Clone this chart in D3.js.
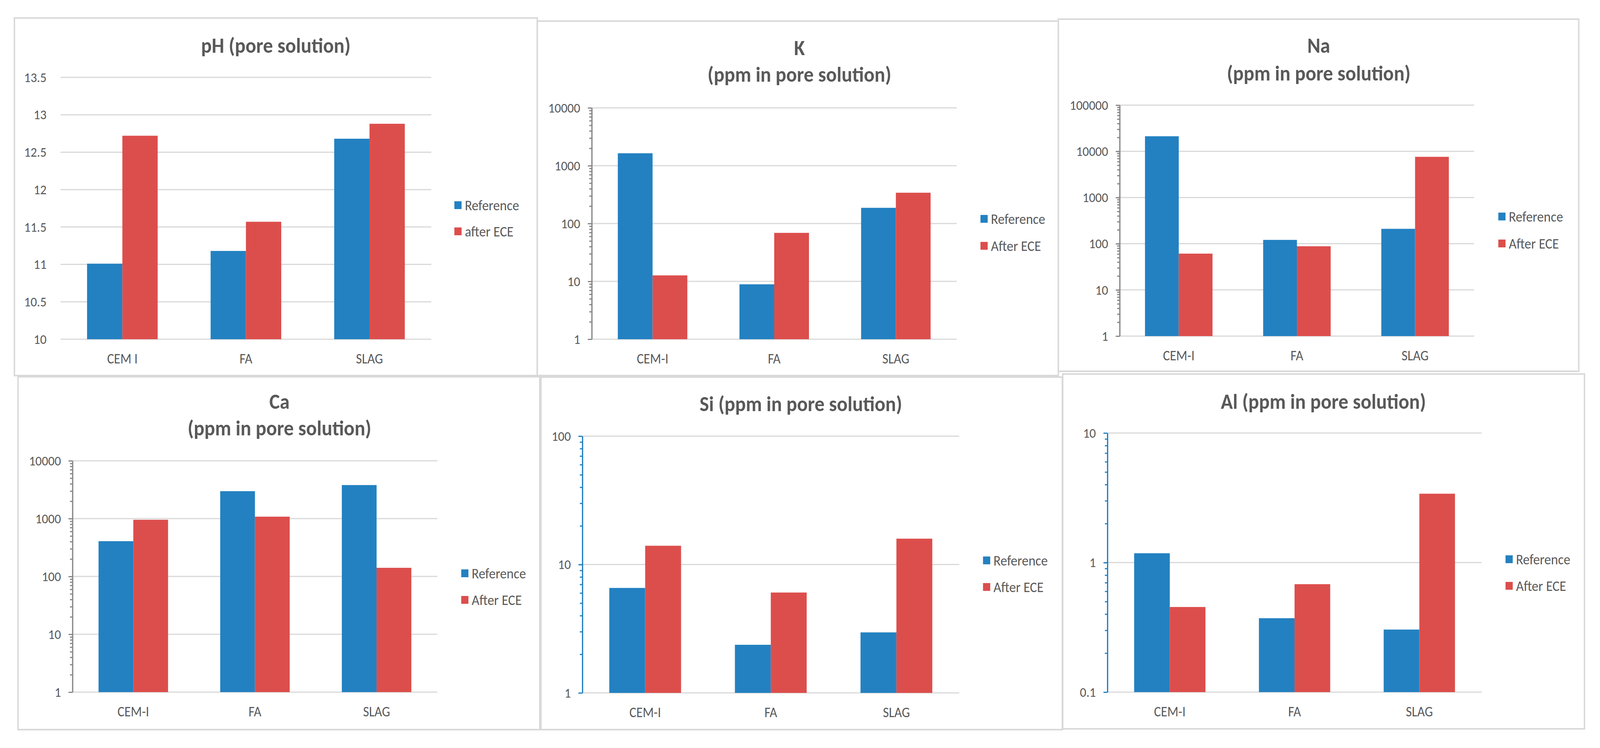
<!DOCTYPE html>
<html>
<head>
<meta charset="utf-8">
<script src="https://cdn.jsdelivr.net/npm/d3@7"></script>
<style>
  html, body { margin: 0; padding: 0; background: #ffffff; overflow: hidden; }
  #chart svg { display: block; width: 100vw; height: 100vh; }
  text { font-family: "Carlito", "Lato", "Open Sans", sans-serif; fill: #595959; }
</style>
</head>
<body>
<div id="chart"></div>
<script>
// data
var categoriesPH = ["CEM I", "FA", "SLAG"];
var categories = ["CEM-I", "FA", "SLAG"];
var seriesPH = ["Reference", "after ECE"];
var series = ["Reference", "After ECE"];

var phReference = [11.01, 11.18, 12.68];
var phAfterECE = [12.72, 11.57, 12.88];
var kReference = [1640, 8.9, 187];
var kAfterECE = [12.7, 69, 341];
var naReference = [21200, 121, 210];
var naAfterECE = [61, 88, 7600];
var caReference = [407, 2980, 3800];
var caAfterECE = [955, 1080, 141];
var siReference = [6.57, 2.37, 2.96];
var siAfterECE = [14.0, 6.05, 15.9];
var alReference = [1.18, 0.372, 0.304];
var alAfterECE = [0.454, 0.681, 3.40];

var phTicks = [10, 10.5, 11, 11.5, 12, 12.5, 13, 13.5];
var kTicks = [1, 10, 100, 1000, 10000];
var naTicks = [1, 10, 100, 1000, 10000, 100000];
var caTicks = [1, 10, 100, 1000, 10000];
var siTicks = [1, 10, 100];
var alTicks = [0.1, 1, 10];

var colors = ["#2381c1", "#dc4e4c"];

// panel layout (page pixels)
var panels = [
  { title: ["pH (pore solution)"], cats: categoriesPH, names: seriesPH, values: [phReference, phAfterECE], ticks: phTicks, log: false,
    frame: [40, 46, 1490, 961], plot: [168, 198, 1196, 868], titleX: 765, titleY: [116], legend: [1260, 525, 592], axisColor: null },
  { title: ["K", "(ppm in pore solution)"], cats: categories, names: series, values: [kReference, kAfterECE], ticks: kTicks, log: true,
    frame: [1490, 54, 2935, 961], plot: [1641, 276, 2653, 868], titleX: 2217, titleY: [122, 190], legend: [2719, 560, 629], axisColor: "#868686" },
  { title: ["Na", "(ppm in pore solution)"], cats: categories, names: series, values: [naReference, naAfterECE], ticks: naTicks, log: true,
    frame: [2935, 49, 4378, 950], plot: [3105, 269, 4088, 860], titleX: 3657, titleY: [116, 187], legend: [4155, 554, 623], axisColor: "#868686" },
  { title: ["Ca", "(ppm in pore solution)"], cats: categories, names: series, values: [caReference, caAfterECE], ticks: caTicks, log: true,
    frame: [50, 964, 1497, 1867], plot: [201, 1179, 1213, 1771], titleX: 775, titleY: [1027, 1095], legend: [1279, 1467, 1535], axisColor: "#868686" },
  { title: ["Si (ppm in pore solution)"], cats: categories, names: series, values: [siReference, siAfterECE], ticks: siTicks, log: true,
    frame: [1500, 965, 2946, 1867], plot: [1615, 1116, 2660, 1773], titleX: 2221, titleY: [1033], legend: [2726, 1434, 1502], axisColor: "#2381c1" },
  { title: ["Al (ppm in pore solution)"], cats: categories, names: series, values: [alReference, alAfterECE], ticks: alTicks, log: true,
    frame: [2947, 957, 4394, 1865], plot: [3071, 1108, 4109, 1771], titleX: 3670, titleY: [1027], legend: [4175, 1431, 1499], axisColor: "#2381c1" }
];

// the drawing is laid out in a 4437x1914 box and scaled to the window
var svg = d3.select("#chart")
            .append("svg")
            .attr("viewBox", "0 0 4437 1914")
            .attr("preserveAspectRatio", "none");

panels.forEach(function(p) {
    // frame
    svg.append("rect")
       .attr("x", p.frame[0])
       .attr("y", p.frame[1])
       .attr("width", p.frame[2] - p.frame[0])
       .attr("height", p.frame[3] - p.frame[1])
       .attr("fill", "#ffffff")
       .attr("stroke", "#d9d9d9")
       .attr("stroke-width", 4);

    var left = p.plot[0], top = p.plot[1], right = p.plot[2], bottom = p.plot[3];
    var g = svg.append("g").attr("transform", "translate(" + left + "," + top + ")");
    var width = right - left, height = bottom - top;

    // scales
    var x0 = d3.scaleBand()
               .domain(p.cats)
               .range([0, width])
               .paddingInner(1.5 / 3.5)
               .paddingOuter(0.75 / 3.5);
    var x1 = d3.scaleBand()
               .domain(p.names)
               .range([0, x0.bandwidth()]);
    var y = p.log
        ? d3.scaleLog().domain([p.ticks[0], p.ticks[p.ticks.length - 1]]).range([height, 0])
        : d3.scaleLinear().domain([p.ticks[0], p.ticks[p.ticks.length - 1]]).range([height, 0]);

    // gridlines
    g.selectAll(".grid")
     .data(p.ticks)
     .enter().append("line")
     .attr("x1", 0)
     .attr("x2", width)
     .attr("y1", function(d) { return y(d); })
     .attr("y2", function(d) { return y(d); })
     .attr("stroke", "#d9d9d9")
     .attr("stroke-width", 3);

    // bars
    var rows = p.cats.map(function(c, i) {
        return p.names.map(function(n, j) { return { cat: c, name: n, value: p.values[j][i], k: j }; });
    });
    g.selectAll(".cat")
     .data(rows)
     .enter().append("g")
     .attr("transform", function(d) { return "translate(" + x0(d[0].cat) + ",0)"; })
     .selectAll("rect")
     .data(function(d) { return d; })
     .enter().append("rect")
     .attr("x", function(d) { return x1(d.name); })
     .attr("width", x1.bandwidth())
     .attr("y", function(d) { return y(d.value); })
     .attr("height", function(d) { return height - y(d.value); })
     .attr("fill", function(d) { return colors[d.k]; });

    // y axis
    var fmt = function(d) { return String(d); };
    var yAxis;
    if (p.log) {
        var minor = g.append("g")
                     .call(d3.axisLeft(y).tickValues(y.ticks()).tickSize(7).tickFormat(""));
        minor.select(".domain").remove();
        minor.selectAll("line").attr("stroke", p.axisColor).attr("stroke-width", 3);
        yAxis = g.append("g")
                 .call(d3.axisLeft(y).tickValues(p.ticks).tickSizeInner(11).tickSizeOuter(0).tickPadding(21).tickFormat(fmt));
        yAxis.select(".domain").attr("stroke", p.axisColor).attr("stroke-width", 3.5);
        yAxis.selectAll("line").attr("stroke", p.axisColor).attr("stroke-width", 3);
    } else {
        yAxis = g.append("g")
                 .call(d3.axisLeft(y).tickValues(p.ticks).tickSize(0).tickPadding(39).tickFormat(fmt));
        yAxis.select(".domain").remove();
    }
    yAxis.selectAll("text")
         .style("font-size", "35px")
         .attr("fill", "#595959");

    // x axis
    var xAxis = g.append("g")
                 .attr("transform", "translate(0," + height + ")")
                 .call(d3.axisBottom(x0).tickSize(0).tickPadding(0));
    xAxis.select(".domain").remove();
    xAxis.selectAll("text")
         .attr("y", 49)
         .attr("dy", "0.35em")
         .style("font-size", "36px")
         .attr("fill", "#595959");

    // title
    p.title.forEach(function(t, i) {
        svg.append("text")
           .attr("x", p.titleX)
           .attr("y", p.titleY[i])
           .attr("dy", "0.35em")
           .style("text-anchor", "middle")
           .style("font-size", "55px")
           .style("font-weight", "bold")
           .text(t);
    });

    // legend
    p.names.forEach(function(n, i) {
        var ly = p.legend[1 + i];
        svg.append("rect")
           .attr("x", p.legend[0])
           .attr("y", ly - 10)
           .attr("width", 20)
           .attr("height", 20)
           .attr("fill", colors[i]);
        svg.append("text")
           .attr("x", p.legend[0] + 29)
           .attr("y", ly)
           .attr("dy", "0.35em")
           .style("font-size", "37px")
           .text(n);
    });
});
</script>
</body>
</html>
